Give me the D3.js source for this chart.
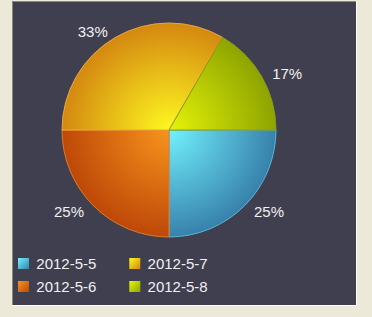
<!DOCTYPE html>
<html>
<head>
<meta charset="utf-8">
<script src="https://cdn.jsdelivr.net/npm/d3@7"></script>
<style>
  html, body { margin: 0; padding: 0; background: #ece9d8; }
  svg { display: block; }
</style>
</head>
<body>
<div id="chart"></div>
<script>
// Data
const categories = ["2012-5-5", "2012-5-6", "2012-5-7", "2012-5-8"];
const values = [3, 3, 4, 2];
// light (centre) / dark (rim) colours per slice
const lightColors = ["#72f2fe", "#f8941c", "#fef820", "#e6f408"];
const darkColors = ["#3781ac", "#be4808", "#d48810", "#8ea400"];
const strokeColors = ["#5cb4d4", "#e07a2a", "#e8a83a", "#8a9a18"];

const width = 372;
const height = 317;
const cx = 169, cy = 130, radius = 107;
const labelRadius = 114.5;

const svg = d3.select("#chart")
    .append("svg")
    .attr("width", width)
    .attr("height", height)
    .style("font-family", "'Liberation Sans', Arial, sans-serif");

// Panel
svg.append("rect")
    .attr("x", 12).attr("y", 1)
    .attr("width", 344).attr("height", 304)
    .attr("fill", "#403f50");
svg.append("path")
    .attr("d", "M12.5,305 V1.5 H356")
    .attr("fill", "none").attr("stroke", "#8a897a");
svg.append("path")
    .attr("d", "M12,305.5 H356.5 V1")
    .attr("fill", "none").attr("stroke", "#ffffff");

const defs = svg.append("defs");

categories.forEach((c, i) => {
    // gradient in the pie group's own space (origin = pie centre)
    const rg = defs.append("radialGradient")
        .attr("id", `rg${i}`)
        .attr("gradientUnits", "userSpaceOnUse")
        .attr("cx", 0).attr("cy", 0).attr("r", radius)
        .attr("fx", 0).attr("fy", 0);
    rg.append("stop").attr("offset", "0%").attr("stop-color", lightColors[i]);
    rg.append("stop").attr("offset", "100%").attr("stop-color", darkColors[i]);

    const lg = defs.append("linearGradient")
        .attr("id", `lg${i}`)
        .attr("x1", 0).attr("y1", 0).attr("x2", 1).attr("y2", 1);
    lg.append("stop").attr("offset", "0%").attr("stop-color", lightColors[i]);
    lg.append("stop").attr("offset", "100%").attr("stop-color", darkColors[i]);
});

// Pie
const pie = d3.pie()
    .sort(null)
    .startAngle(Math.PI / 2)
    .endAngle(Math.PI / 2 + 2 * Math.PI);

const arc = d3.arc()
    .innerRadius(0)
    .outerRadius(radius);

const arcs = pie(values);
const total = d3.sum(values);

const g = svg.append("g")
    .attr("transform", `translate(${cx},${cy})`);

g.selectAll(".slice")
    .data(arcs)
    .enter().append("path")
    .attr("class", "slice")
    .attr("d", arc)
    .attr("fill", (d, i) => `url(#rg${i})`)
    .attr("stroke", (d, i) => strokeColors[i])
    .attr("stroke-width", 1)
    .attr("stroke-linejoin", "round");

// Labels
g.selectAll(".label")
    .data(arcs)
    .enter().append("text")
    .attr("class", "label")
    .each(function (d) {
        const a = (d.startAngle + d.endAngle) / 2;
        const s = Math.sin(a) >= 0 ? 1 : -1;
        d3.select(this)
            .attr("x", labelRadius * Math.sin(a) + s * 4)
            .attr("y", -labelRadius * Math.cos(a) + 1)
            .attr("text-anchor", s > 0 ? "start" : "end");
    })
    .attr("dy", "0.35em")
    .attr("fill", "#f0f0f0")
    .style("font-size", "15px")
    .text(d => Math.round(d.data / total * 100) + "%");

// Legend (column-major, 2 rows)
const legend = svg.append("g");
const item = legend.selectAll(".item")
    .data(categories)
    .enter().append("g")
    .attr("class", "item")
    .attr("transform", (d, i) => `translate(${18 + Math.floor(i / 2) * 111.3},${258 + (i % 2) * 23})`);

item.append("rect")
    .attr("width", 11).attr("height", 11)
    .attr("fill", (d, i) => `url(#lg${i})`);

item.append("text")
    .attr("x", 18.3)
    .attr("y", 10.5)
    .attr("fill", "#f0f0f0")
    .style("font-size", "15px")
    .text(d => d);
</script>
</body>
</html>
